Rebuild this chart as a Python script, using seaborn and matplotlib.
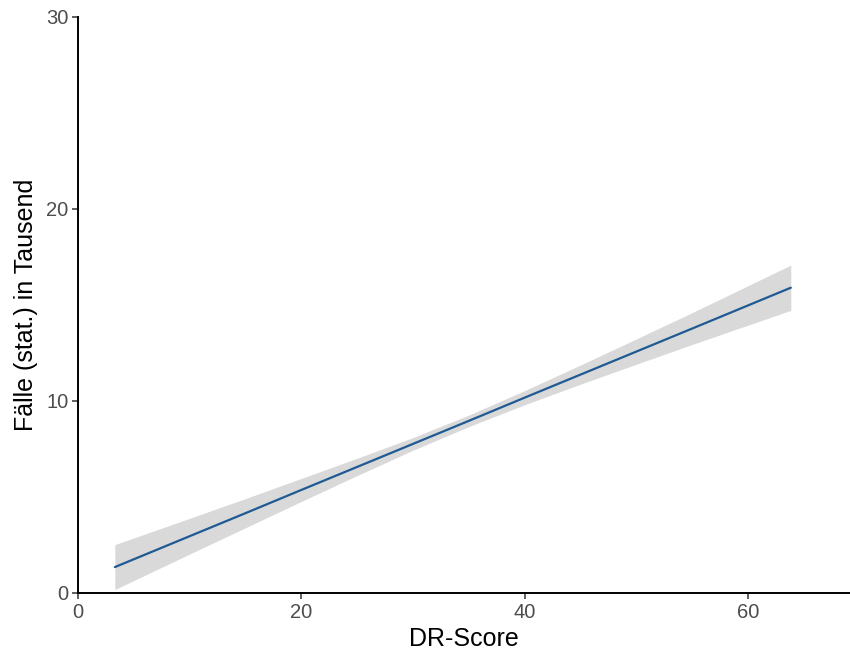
import numpy as np
import pandas as pd
import seaborn as sns
import matplotlib
matplotlib.use("Agg")
import matplotlib.pyplot as plt

# Fitted regression line with confidence band
dr_score = [3.3, 10, 15, 20, 25, 30, 35, 40, 45, 50, 55, 63.8]
fit = [1.35, 2.96, 4.16, 5.37, 6.57, 7.77, 8.97, 10.18, 11.38, 12.58, 13.78, 15.90]
lower = [0.18, 2.03, 3.40, 4.77, 6.12, 7.44, 8.67, 9.81, 10.88, 11.92, 12.95, 14.72]
upper = [2.52, 3.89, 4.92, 5.97, 7.02, 8.10, 9.27, 10.55, 11.88, 13.24, 14.61, 17.08]

x_ticks = [0, 20, 40, 60]
y_ticks = [0, 10, 20, 30]

df = pd.DataFrame({"DR-Score": dr_score, "fit": fit, "lower": lower, "upper": upper})

sns.set_theme(style="ticks")
plt.rcParams["font.family"] = ["Liberation Sans", "DejaVu Sans"]

fig = plt.figure(figsize=(8.5, 6.55), dpi=100)
ax = fig.add_axes([78 / 850, 62 / 655, 1 - 78 / 850, 576 / 655])

ax.fill_between(df["DR-Score"], df["lower"], df["upper"], color="#d9d9d9", linewidth=0)
sns.lineplot(data=df, x="DR-Score", y="fit", ax=ax, color="#1f5a94", linewidth=1.6)

ax.set_xlim(0, 69.1)
ax.set_ylim(0, 30)
ax.set_xticks(x_ticks)
ax.set_yticks(y_ticks)
ax.set_xlabel("DR-Score", fontsize=18, color="black", labelpad=4)
ax.set_ylabel("Fälle (stat.) in Tausend", fontsize=18, color="black", labelpad=6)

ax.tick_params(axis="both", labelsize=14.5, labelcolor="#4d4d4d", color="#333333",
               length=4, width=1.1, pad=3)
for side in ["top", "right"]:
    ax.spines[side].set_visible(False)
for side in ["left", "bottom"]:
    ax.spines[side].set_linewidth(1.4)
    ax.spines[side].set_color("black")
    ax.spines[side].set_clip_on(False)

fig.savefig("out.png", dpi=100)
